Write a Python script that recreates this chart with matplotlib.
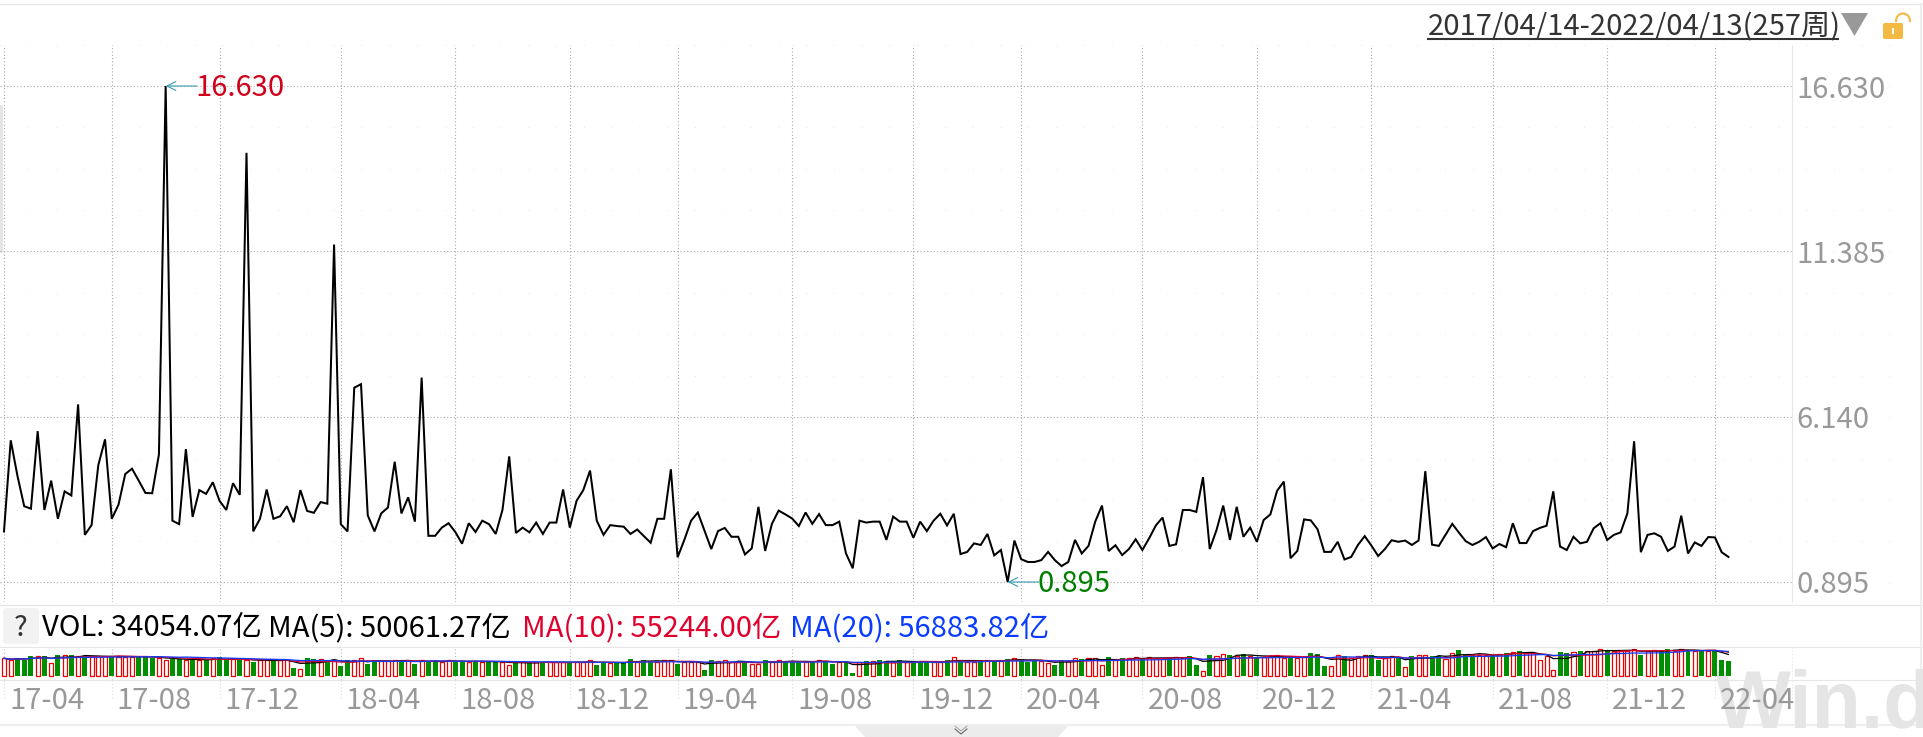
import numpy as np
import pandas as pd
import matplotlib
matplotlib.use("Agg")
import matplotlib.pyplot as plt
from matplotlib.patches import Rectangle, FancyBboxPatch, Polygon

plt.rcParams['font.family'] = ['Noto Sans CJK SC', 'DejaVu Sans']

W, H = 1924, 737
FONT = 21

# weekly closes
close = [
    2.50, 5.39, 4.26, 3.30, 3.22, 5.68, 3.18, 4.11, 2.90, 3.77, 3.64, 6.53, 2.39, 2.70, 4.60, 5.42,
    2.90, 3.35, 4.32, 4.49, 4.11, 3.72, 3.71, 4.94, 16.63, 2.84, 2.73, 5.11, 2.96, 3.81, 3.69, 4.06,
    3.47, 3.18, 4.03, 3.66, 14.51, 2.50, 2.90, 3.83, 2.90, 2.98, 3.30, 2.79, 3.81, 3.15, 3.09, 3.43,
    3.38, 11.60, 2.73, 2.50, 7.06, 7.17, 3.01, 2.50, 3.07, 3.26, 4.71, 3.07, 3.58, 2.81, 7.38, 2.36,
    2.36, 2.62, 2.76, 2.48, 2.11, 2.76, 2.48, 2.84, 2.73, 2.42, 3.18, 4.88, 2.45, 2.62, 2.47, 2.78,
    2.42, 2.78, 2.78, 3.83, 2.62, 3.47, 3.81, 4.43, 2.84, 2.39, 2.70, 2.67, 2.65, 2.42, 2.56, 2.35,
    2.14, 2.90, 2.90, 4.47, 1.68, 2.23, 2.84, 3.10, 2.52, 1.94, 2.51, 2.61, 2.33, 2.33, 1.77, 1.96,
    3.28, 1.88, 2.74, 3.16, 3.04, 2.91, 2.67, 3.10, 2.74, 3.05, 2.70, 2.70, 2.81, 1.80, 1.33, 2.84,
    2.78, 2.81, 2.81, 2.23, 2.97, 2.81, 2.81, 2.30, 2.81, 2.51, 2.84, 3.06, 2.69, 3.06, 1.78, 1.85,
    2.12, 2.07, 2.42, 1.74, 1.91, 0.895, 2.21, 1.62, 1.53, 1.53, 1.59, 1.85, 1.59, 1.40, 1.53, 2.23,
    1.80, 2.04, 2.81, 3.32, 1.88, 2.06, 1.75, 1.94, 2.25, 1.91, 2.28, 2.69, 2.94, 2.04, 2.09, 3.18,
    3.18, 3.12, 4.22, 1.94, 2.54, 3.32, 2.23, 3.28, 2.33, 2.62, 2.17, 2.86, 3.04, 3.79, 4.08, 1.65,
    1.88, 2.88, 2.85, 2.57, 1.85, 1.85, 2.17, 1.61, 1.69, 2.07, 2.35, 2.05, 1.72, 1.94, 2.22, 2.17,
    2.21, 2.07, 2.21, 4.41, 2.08, 2.04, 2.39, 2.74, 2.46, 2.19, 2.07, 2.17, 2.32, 1.96, 2.10, 2.00,
    2.76, 2.13, 2.13, 2.51, 2.61, 2.68, 3.77, 2.02, 1.91, 2.33, 2.12, 2.17, 2.60, 2.76, 2.23, 2.39,
    2.47, 3.07, 5.36, 1.84, 2.39, 2.44, 2.33, 1.88, 2.02, 3.00, 1.80, 2.15, 2.04, 2.32, 2.31, 1.84,
    1.69,
]

# volume in 千亿
vol = [
    40.2, 36.4, 41.0, 37.2, 45.7, 44.9, 45.7, 28.6, 48.0, 47.2,
    48.0, 44.9, 45.7, 44.9, 44.9, 44.9, 44.9, 44.1, 44.1, 44.1,
    43.3, 44.9, 41.0, 41.0, 35.6, 39.5, 37.9, 37.2, 37.9, 35.6,
    35.6, 41.0, 42.6, 37.9, 38.7, 37.9, 35.6, 32.5, 35.6, 35.6,
    37.2, 35.6, 35.6, 17.8, 16.3, 41.0, 38.7, 37.9, 32.5, 37.2,
    22.4, 35.6, 35.6, 40.2, 27.1, 34.8, 34.8, 34.8, 35.6, 35.6,
    35.6, 27.1, 35.6, 33.3, 34.8, 32.5, 35.6, 32.5, 33.3, 32.5,
    33.3, 32.5, 32.5, 32.5, 31.7, 24.0, 31.0, 31.0, 30.2, 31.0,
    32.5, 31.0, 31.0, 31.0, 31.0, 31.7, 32.5, 35.6, 24.8, 31.0,
    30.2, 31.7, 30.2, 38.7, 32.5, 36.4, 32.5, 32.5, 35.6, 35.6,
    27.1, 31.7, 31.7, 31.7, 13.2, 36.4, 33.3, 35.6, 31.7, 31.7,
    32.5, 27.1, 27.9, 36.4, 32.5, 35.6, 32.5, 32.5, 33.3, 32.5,
    33.3, 35.6, 33.3, 27.1, 31.7, 31.7, 6.2, 31.7, 33.3, 33.3,
    36.4, 31.7, 31.7, 36.4, 31.7, 32.5, 31.7, 31.7, 31.7, 31.7,
    36.4, 42.6, 33.3, 31.7, 31.7, 34.8, 35.6, 34.8, 34.8, 38.7,
    40.2, 37.2, 31.7, 35.6, 34.8, 28.6, 24.8, 35.6, 33.3, 40.2,
    38.7, 40.2, 41.0, 25.5, 43.3, 37.2, 41.0, 40.2, 42.6, 38.7,
    42.6, 41.8, 41.8, 41.8, 42.6, 41.0, 45.7, 24.8, 11.6, 48.0,
    44.9, 49.5, 48.0, 46.4, 50.3, 45.7, 42.6, 44.1, 44.1, 47.2,
    41.0, 43.3, 41.0, 42.6, 52.6, 50.3, 22.4, 21.7, 47.2, 45.7,
    41.0, 44.9, 47.2, 48.0, 36.4, 41.0, 44.9, 44.1, 19.4, 45.7,
    47.2, 47.2, 45.7, 46.4, 38.7, 51.9, 58.8, 48.8, 47.2, 48.8,
    47.2, 47.2, 50.3, 52.6, 55.7, 57.3, 52.6, 52.6, 35.6, 44.9,
    12.4, 55.0, 52.6, 55.7, 57.3, 56.5, 56.5, 61.1, 59.6, 57.3,
    58.1, 58.1, 62.7, 48.0, 58.1, 58.8, 59.6, 61.9, 58.1, 61.1,
    58.1, 58.1, 58.1, 58.1, 59.6, 36.4, 34.05,
]

# r = hollow red week, g = solid green week
updown = (
    "rrgggrgrgr" "grgrrrgrrr" "gggrrggrgr" "grggrgrgrr" "grrgrggrgr"
    "ggrrggrrrg" "rgrggrrggr" "grggrrgrgr" "grrrgrrrgg" "rgggrggrrr"
    "grrrggrrrr" "grrgrrgggr" "grggrggrgr" "ggrgrgggrr" "grgrrgrgrg"
    "rgggrrggrr" "grrrgrgrrg" "rrrgrrggrg" "rrgrgrgrrr" "rgrrgggrrg"
    "rrrggrrgrg" "rrggrrgggr" "rgrgrgrrrr" "rggrgrrrgr" "rrrgrrggrr"
    "grgrggg"
)

tick_pos = [0, 16, 32, 50, 67, 84, 100, 117, 135, 151, 169, 186, 203, 221, 238, 254]
tick_labels = ["17-04", "17-08", "17-12", "18-04", "18-08", "18-12", "19-04", "19-08",
               "19-12", "20-04", "20-08", "20-12", "21-04", "21-08", "21-12", "22-04"]
y_ticks = [0.895, 6.140, 11.385, 16.630]

legend_parts = [
    (42, "VOL: 34054.07亿", "black"),
    (268, "MA(5): 50061.27亿", "black"),
    (522, "MA(10): 55244.00亿", "#e0002d"),
    (790, "MA(20): 56883.82亿", "#0a3cff"),
]

n = len(close)
x = np.arange(n)
PX0, STEP = 4.0, 6.736


def px_axes(fig, left, top, right, bottom, **kw):
    return fig.add_axes([left / W, 1 - bottom / H, (right - left) / W, (bottom - top) / H], **kw)


def idx_lim(left, right):
    return (left - PX0) / STEP, (right - PX0) / STEP


fig = plt.figure(figsize=(W / 100, H / 100), dpi=100, facecolor='white')

# whole-figure layer in pixels, for the window furniture
bg = fig.add_axes([0, 0, 1, 1], zorder=0)
bg.set_xlim(0, W)
bg.set_ylim(H, 0)
bg.axis('off')

for yy, lw, col in [(4, 1.0, '#e8e8e8'), (605, 1.0, '#e6e6e6'), (647, 0.8, '#e6e6e6'),
                    (680, 0.8, '#e6e6e6'), (725, 1.6, '#eeeeee')]:
    bg.plot([0, W], [yy, yy], color=col, lw=lw)
bg.plot([1, 1], [106, 251], color='#e4e4e4', lw=2)
bg.plot([1921, 1921], [4, 725], color='#eeeeee', lw=1.5)
bg.plot([1792, 1792], [45, 602], color='#e8e8e8', lw=0.8)
bg.plot([1792, 1792], [647, 700], color='#e8e8e8', lw=0.8, ls=(0, (1, 2)))

# faint background dots
for yy in np.arange(86 - 41.4, 600, 41.4):
    bg.plot([0, 1900], [yy, yy], color='#ececec', lw=0.8, ls=(0, (1, 24)))

# watermark and bottom tab
bg.text(1715, 727, "Win.d", family='Liberation Sans', fontweight='bold', fontsize=58,
        color='#e5e5e5', va='baseline', ha='left', clip_on=True)
bg.add_patch(Polygon([[855, 726], [1068, 726], [1058, 737], [865, 737]], fc='#ececec', ec='none'))
bg.plot([955, 961, 967], [729, 734, 729], color='#666666', lw=0.8)
bg.plot([955, 961, 967], [726, 731, 726], color='#999999', lw=0.6)

# date range header and lock
bg.text(1428, 27, "2017/04/14-2022/04/13(257周)", fontsize=FONT, color='#333333', va='center', ha='left')
bg.plot([1428, 1838], [39, 39], color='#333333', lw=1.5)
bg.add_patch(Polygon([[1841, 13], [1868, 13], [1854.5, 36]], fc='#999999', ec='none'))
bg.add_patch(FancyBboxPatch((1883, 23), 20, 16, boxstyle="round,pad=0,rounding_size=2", fc='#f4b942', ec='none'))
bg.add_patch(Rectangle((1892, 28), 2, 6, fc='white', ec='none'))
shackle = np.radians(np.linspace(180, 360, 20))
bg.plot(1903 + 7 * np.cos(shackle), 21 + 7.5 * np.sin(shackle), color='#f4b942', lw=1.5)

# help button and legend row
bg.add_patch(FancyBboxPatch((3, 608), 36, 36, boxstyle="round,pad=0,rounding_size=3", fc='#f2f2f2', ec='none'))
bg.text(21, 628, "?", fontsize=FONT, color='#333333', ha='center', va='center')
for lx, txt, col in legend_parts:
    bg.text(lx, 628, txt, fontsize=FONT, color=col, ha='left', va='center')

# price panel
ax = px_axes(fig, 0, 45, 1792, 602, zorder=2)
ax.patch.set_alpha(0)
ax.set_xlim(*idx_lim(0, 1792))
units = 31.52
ax.set_ylim(0.895 - (602 - 582) / units, 16.63 + (86 - 45) / units)
ax.plot(x, close, color='black', lw=1.45, solid_joinstyle='miter', zorder=3)
ax.set_xticks(tick_pos)
ax.set_xticklabels([])
ax.yaxis.tick_right()
ax.set_yticks(y_ticks)
ax.set_yticklabels(["%.3f" % v for v in y_ticks], fontsize=FONT, color='#999999')
ax.tick_params(length=0, pad=3.5)
ax.grid(True, color='#aaaaaa', lw=0.8, ls=(0, (1, 2)))
ax.set_axisbelow(True)
for s in ax.spines.values():
    s.set_visible(False)

# high / low markers
for i, col in [(int(np.argmax(close)), '#d0021b'), (int(np.argmin(close)), '#007f00')]:
    ax.annotate("", xy=(i, close[i]), xytext=(31, 0), textcoords='offset pixels',
                arrowprops=dict(arrowstyle='->', color='#3a9cb5', lw=0.8, mutation_scale=16,
                                shrinkA=0, shrinkB=0))
    ax.annotate("%.3f" % close[i], xy=(i, close[i]), xytext=(30, -2), textcoords='offset pixels',
                fontsize=FONT, color=col, va='center', ha='left')

# volume panel
vax = px_axes(fig, 0, 647, 1792, 680, zorder=2)
vax.patch.set_alpha(0)
vax.set_xlim(*idx_lim(0, 1792))
vax.set_ylim(-10.0, 66.6)
vol_s = pd.Series(vol)
for i, v in enumerate(vol):
    if updown[i] == 'g':
        vax.bar(i, v, width=0.74, color='#008f00', lw=0)
    else:
        vax.bar(i, v, width=0.6, facecolor='white', edgecolor='#ee0000', lw=0.9)
vax.plot(x, vol_s.rolling(5, min_periods=1).mean(), color='black', lw=0.9)
vax.plot(x, vol_s.rolling(10, min_periods=1).mean(), color='#e0002d', lw=0.9)
vax.plot(x, vol_s.rolling(20, min_periods=1).mean(), color='#0a3cff', lw=0.9)
vax.set_xticks(tick_pos)
vax.set_xticklabels([])
vax.set_yticks([])
vax.tick_params(length=0)
vax.grid(True, axis='x', color='#bbbbbb', lw=0.8, ls=(0, (1, 2)))
vax.set_axisbelow(True)
for s in vax.spines.values():
    s.set_visible(False)

for pos, lab in zip(tick_pos, tick_labels):
    px = PX0 + STEP * pos
    bg.plot([px, px], [680, 700], color='#dddddd', lw=0.8, ls=(0, (1, 2)))
    bg.text(px + 5, 701, lab, fontsize=FONT, color='#999999', ha='left', va='center')

fig.savefig("out.png", dpi=100)
